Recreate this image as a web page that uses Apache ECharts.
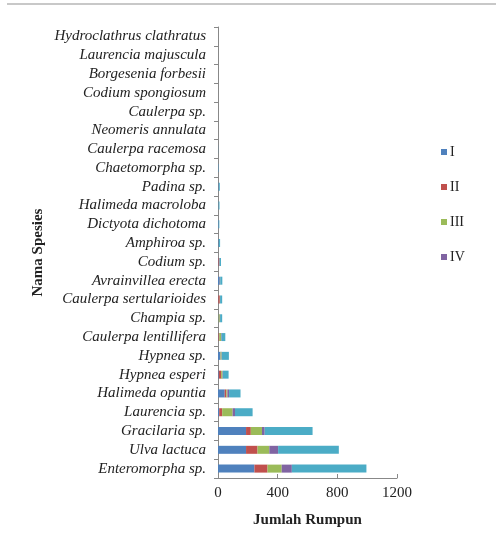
<!DOCTYPE html>
<html>
<head>
<meta charset="utf-8">
<script src="https://cdn.jsdelivr.net/npm/echarts@6/dist/echarts.min.js"></script>
<style>html,body{margin:0;padding:0;background:#fff}#c{width:496px;height:548px}</style>
</head>
<body>
<div id="c"></div>
<script>
const categories = ["Enteromorpha sp.","Ulva lactuca","Gracilaria sp.","Laurencia sp.","Halimeda opuntia","Hypnea esperi","Hypnea sp.","Caulerpa lentillifera","Champia sp.","Caulerpa sertularioides","Avrainvillea erecta","Codium sp.","Amphiroa sp.","Dictyota dichotoma","Halimeda macroloba","Padina sp.","Chaetomorpha sp.","Caulerpa racemosa","Neomeris annulata","Caulerpa sp.","Codium spongiosum","Borgesenia forbesii","Laurencia majuscula","Hydroclathrus clathratus"];
const seriesI   = [244,188,188,8,45,5,16,3,3,2,12,3,5,3,3,4,1,0.5,0,0,0,0,0,0];
const seriesII  = [88,77,32,20,11,16,1,5,1,10,1,7,0,0,0,0,0,0,0,0,0,0,0,0];
const seriesIII = [95,79,75,70,7,9,7,12,8,1,1,0,1,0,1,1,0,0,0,0,0,0,0,0];
const seriesIV  = [68,59,18,16,11,3,2,4,2,1,1,0,1,1,1,1,1,0,0,0,0,0,0,0];
const seriesTotal = [500,407,321,118,77,38,47,25,14,14,14,10,7,5,5,6,2,0.5,0,0,0,0,0,0];
const xTicks = [0,400,800,1200];
const legendNames = ["I","II","III","IV"];
const colors = ["#4F81BD","#C0504D","#9BBB59","#8064A2","#4BACC6"];

const serif = "Liberation Serif";
const chart = echarts.init(document.getElementById('c'), null, {renderer:'canvas'});
const mk = (name, data, color) => ({name, type:'bar', stack:'s', data, barWidth:8, itemStyle:{color}, silent:true});
chart.setOption({
  animation:false,
  color: colors,
  grid:{left:218, top:27, width:179, height:451, containLabel:false},
  legend:{data:legendNames, orient:'vertical', left:436, top:140, itemGap:21, itemWidth:6, itemHeight:6,
    icon:'rect', textStyle:{fontFamily:serif, fontSize:14, color:'#222', padding:[0,0,0,-2]}},
  xAxis:{type:'value', min:0, max:1200, interval:400,
    axisLine:{show:true, lineStyle:{color:'#888'}}, axisTick:{show:true, inside:true, length:4, lineStyle:{color:'#888'}},
    splitLine:{show:false},
    axisLabel:{fontFamily:serif, fontSize:15, color:'#222', margin:8, formatter:v=>xTicks.includes(v)?String(v):''},
    name:'Jumlah Rumpun', nameLocation:'middle', nameGap:35,
    nameTextStyle:{fontFamily:serif, fontSize:15, fontWeight:'bold', color:'#222'}},
  yAxis:{type:'category', data:categories,
    axisLine:{show:true, lineStyle:{color:'#888'}}, axisTick:{show:true, interval:0, length:4, lineStyle:{color:'#888'}},
    axisLabel:{interval:0, fontFamily:serif, fontStyle:'italic', fontSize:15, color:'#222', margin:12},
    name:'Nama Spesies', nameLocation:'middle', nameGap:172,
    nameTextStyle:{fontFamily:serif, fontSize:15, fontWeight:'bold', color:'#222'}},
  graphic:[{type:'line', shape:{x1:7,y1:4,x2:496,y2:4}, style:{stroke:'#c8c8c8', lineWidth:2}}],
  series:[mk('I',seriesI,colors[0]), mk('II',seriesII,colors[1]), mk('III',seriesIII,colors[2]), mk('IV',seriesIV,colors[3]), mk('Total',seriesTotal,colors[4])]
});
</script>
</body>
</html>
